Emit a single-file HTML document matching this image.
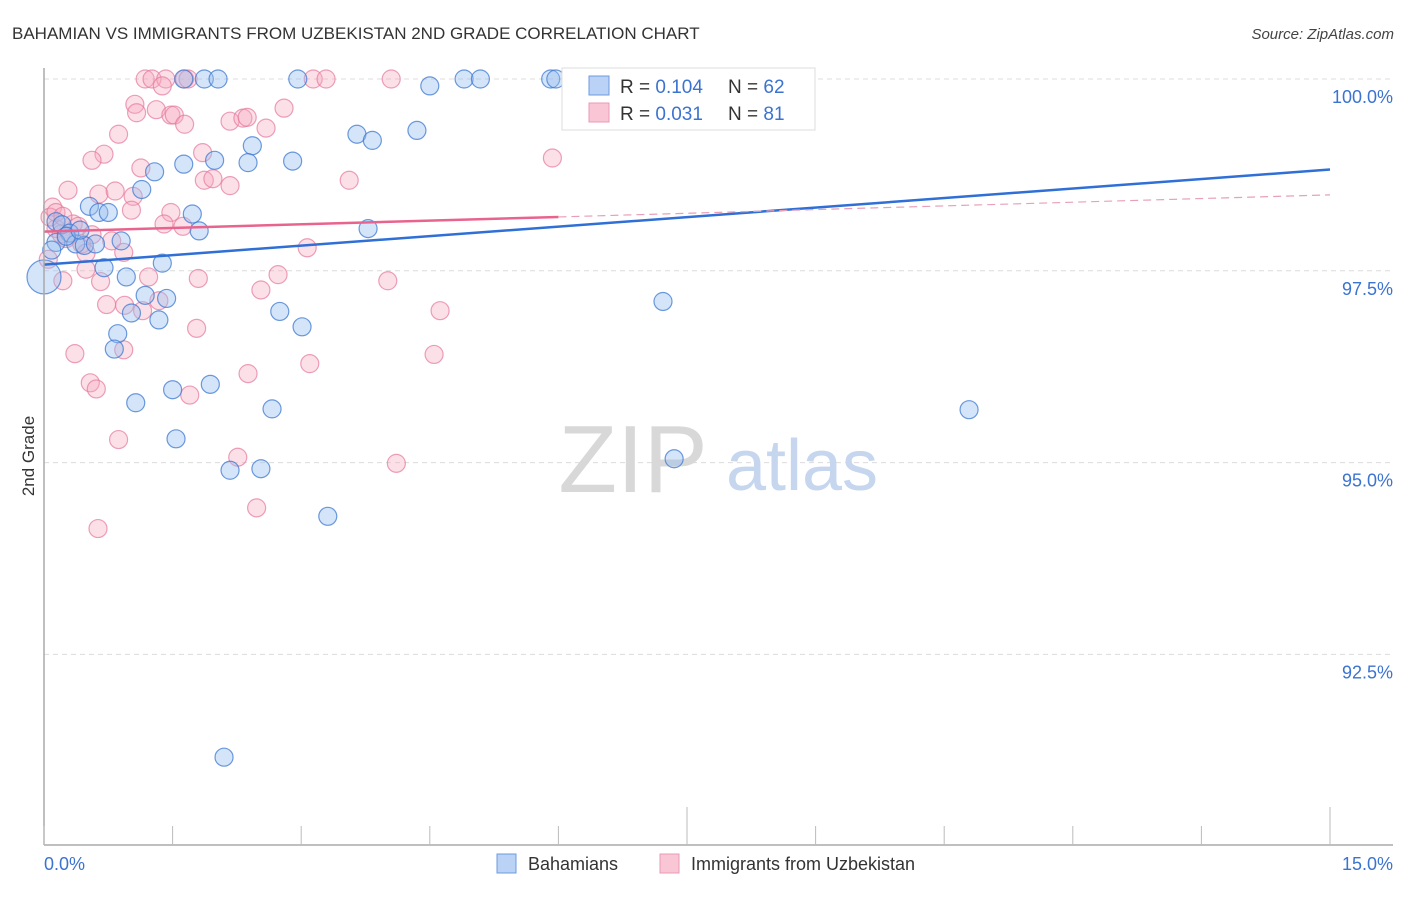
<!DOCTYPE html>
<html><head><meta charset="utf-8"><style>
body{margin:0;background:#fff;font-family:"Liberation Sans",sans-serif;}
svg text{font-family:"Liberation Sans",sans-serif;}
</style></head><body>
<svg id="chart" width="1406" height="892" xmlns="http://www.w3.org/2000/svg">
<text x="12" y="39" font-size="17" fill="#333">BAHAMIAN VS IMMIGRANTS FROM UZBEKISTAN 2ND GRADE CORRELATION CHART</text>
<text x="1394" y="39" font-size="15" fill="#444" text-anchor="end" font-style="italic">Source: ZipAtlas.com</text>
<g id="grid"></g>
<g>
<text x="633" y="492" font-size="96" fill="#d8d8d8" text-anchor="middle" font-family="Liberation Serif">ZIP</text>
<text x="802" y="490" font-size="72" fill="#c5d6ee" text-anchor="middle">atlas</text>
</g>
<g id="pts"></g>
<g id="trend"></g>
<g id="axes"></g>
<text transform="translate(34,456) rotate(-90)" font-size="17" fill="#333" text-anchor="middle">2nd Grade</text>
<g>
<rect x="562" y="68" width="253" height="62" fill="#fff" stroke="#ddd"/>
<rect x="589" y="76" width="20" height="19" fill="#b9d2f5" stroke="#6d9be0"/>
<rect x="589" y="103" width="20" height="19" fill="#f9c6d6" stroke="#eb9ab3"/>
<text x="620" y="93" font-size="19" fill="#333">R = <tspan fill="#3b73d0">0.104</tspan></text>
<text x="728" y="93" font-size="19" fill="#333">N = <tspan fill="#3b73d0">62</tspan></text>
<text x="620" y="120" font-size="19" fill="#333">R = <tspan fill="#3b73d0">0.031</tspan></text>
<text x="728" y="120" font-size="19" fill="#333">N = <tspan fill="#3b73d0"> 81</tspan></text>
</g>
<g>
<rect x="497" y="854" width="19" height="19" fill="#b9d2f5" stroke="#6d9be0"/>
<text x="528" y="870" font-size="18" fill="#333">Bahamians</text>
<rect x="660" y="854" width="19" height="19" fill="#f9c6d6" stroke="#eb9ab3"/>
<text x="691" y="870" font-size="18" fill="#333">Immigrants from Uzbekistan</text>
</g>
</svg>
<script>
const xTicks=[0,1.5,3,4.5,6,7.5,9,10.5,12,13.5,15];
const yTicks=[100,97.5,95,92.5];
const yTickLabels=["100.0%","97.5%","95.0%","92.5%"];
const xEndLabels=["0.0%","15.0%"];
const bahX=[1.63,1.87,2.03,2.96,4.90,5.09,5.91,5.97,4.50,3.65,3.83,4.35,2.43,1.63,1.99,2.38,2.90,1.29,1.14,0.53,0.64,0.75,1.73,1.81,3.78,0.14,0.21,0.30,0.37,0.47,0.60,0.90,0.70,1.38,0.96,1.18,1.43,1.02,1.34,2.75,3.01,0.86,0.82,1.07,1.50,1.94,2.66,1.54,2.17,2.53,3.31,2.10,7.22,10.79,7.35,0.0,0.14,0.26,0.09,0.42];
const bahY=[100,100,100,100,100,100,100,100,99.91,99.28,99.20,99.33,99.13,98.89,98.94,98.91,98.93,98.79,98.56,98.34,98.26,98.26,98.24,98.02,98.05,98.14,98.10,97.99,97.85,97.83,97.85,97.89,97.54,97.60,97.42,97.18,97.14,96.95,96.86,96.97,96.77,96.68,96.48,95.78,95.95,96.02,95.70,95.31,94.90,94.92,94.30,91.16,97.10,95.69,95.05,97.42,97.87,97.95,97.77,98.03];
const uzbX=[1.18,1.26,1.42,1.64,1.68,3.14,3.29,4.05,1.38,7.48,1.06,1.08,1.31,1.48,1.52,1.64,0.87,2.17,2.32,2.37,2.59,2.80,5.93,0.70,0.56,1.13,1.85,1.87,1.97,2.17,3.56,0.28,0.64,0.83,1.04,0.10,1.02,1.48,1.40,1.62,0.34,0.40,0.14,0.20,0.26,0.44,0.79,3.07,0.93,0.05,0.49,1.22,1.80,2.73,4.01,0.22,0.66,0.73,0.94,1.15,1.34,2.53,4.62,1.78,0.36,0.93,4.55,3.10,2.38,0.54,0.61,1.70,0.87,2.26,4.11,2.48,0.63,0.07,0.14,0.22,0.49,0.56];
const uzbY=[100,100,100,100,100,100,100,100,99.91,100,99.67,99.56,99.60,99.53,99.53,99.41,99.28,99.45,99.49,99.50,99.36,99.62,98.97,99.02,98.94,98.84,99.04,98.68,98.70,98.61,98.68,98.55,98.50,98.54,98.47,98.33,98.29,98.26,98.11,98.08,98.11,98.08,98.05,97.98,97.92,97.85,97.89,97.80,97.74,97.65,97.52,97.42,97.40,97.45,97.37,97.37,97.36,97.06,97.05,96.98,97.11,97.25,96.98,96.75,96.42,96.47,96.41,96.29,96.16,96.04,95.96,95.88,95.30,95.07,94.99,94.41,94.14,98.20,98.26,98.21,97.73,97.97];
const trendBah=[97.58,98.82];
const trendUzb=[98.01,98.49];
const X0=44,X1=1330,YTOP=79,PX25=191.8,YBOT=845;
const sx=v=>X0+v/15*(X1-X0);
const sy=v=>YTOP+(100-v)/2.5*PX25;
const NS="http://www.w3.org/2000/svg";
function mk(p,t,a){const e=document.createElementNS(NS,t);for(const k in a)e.setAttribute(k,a[k]);document.getElementById(p).appendChild(e);return e;}
yTicks.forEach((t,i)=>{
 const l=mk('grid','line',{x1:X0,x2:1393,y1:sy(t),y2:sy(t),stroke:'#dcdcdc','stroke-dasharray':'5,4'});
 
 
 const tx=mk('grid','text',{x:1393,y:sy(t)+24,'font-size':18,fill:'#3b73d0','text-anchor':'end'});
 tx.textContent=yTickLabels[i];
 
 
});
const ax=mk('axes','line',{x1:X0,x2:1393,y1:YBOT,y2:YBOT,stroke:'#aaa','stroke-width':1.5});


const ay=mk('axes','line',{x1:X0,x2:X0,y1:68,y2:YBOT,stroke:'#aaa','stroke-width':1.5});


xTicks.forEach((t,i)=>{
 const tall=(i===5||i===10);
 const l=mk('axes','line',{x1:sx(t),x2:sx(t),y1:tall?807:826,y2:YBOT,stroke:'#bbb'});
 
 
});
[[0,'start',X0],[1,'end',1393]].forEach(([i,a,x])=>{
 const t=mk('axes','text',{x:x,y:870,'font-size':18,fill:'#3b73d0','text-anchor':a});
 t.textContent=xEndLabels[i];
 
 
});
function pts(xs,ys,fill,stroke,name){
 xs.forEach((x,i)=>{
  const big=(name==='bahamians-point'&&x===0&&ys[i]<97.5);
  const c=mk('pts','circle',{cx:sx(x),cy:sy(ys[i]),r:big?17:9,fill:fill,stroke:stroke,'stroke-width':1.2});
  
  
 });
}
pts(uzbX,uzbY,'rgba(245,165,190,0.35)','rgba(230,120,155,0.7)','uzbekistan-point');
pts(bahX,bahY,'rgba(150,190,240,0.4)','rgba(60,120,210,0.75)','bahamians-point');
const tb=mk('trend','line',{x1:sx(0),y1:sy(trendBah[0]),x2:sx(15),y2:sy(trendBah[1]),stroke:'#2f6fd6','stroke-width':2.5});


const um=trendUzb[0]+(trendUzb[1]-trendUzb[0])*6/15;
const tu=mk('trend','line',{x1:sx(0),y1:sy(trendUzb[0]),x2:sx(6),y2:sy(um),stroke:'#e8648e','stroke-width':2.5});


const td=mk('trend','line',{x1:sx(6),y1:sy(um),x2:sx(15),y2:sy(trendUzb[1]),stroke:'#e8a0b8','stroke-width':1.2,'stroke-dasharray':'8,5'});


</script>
</body></html>
